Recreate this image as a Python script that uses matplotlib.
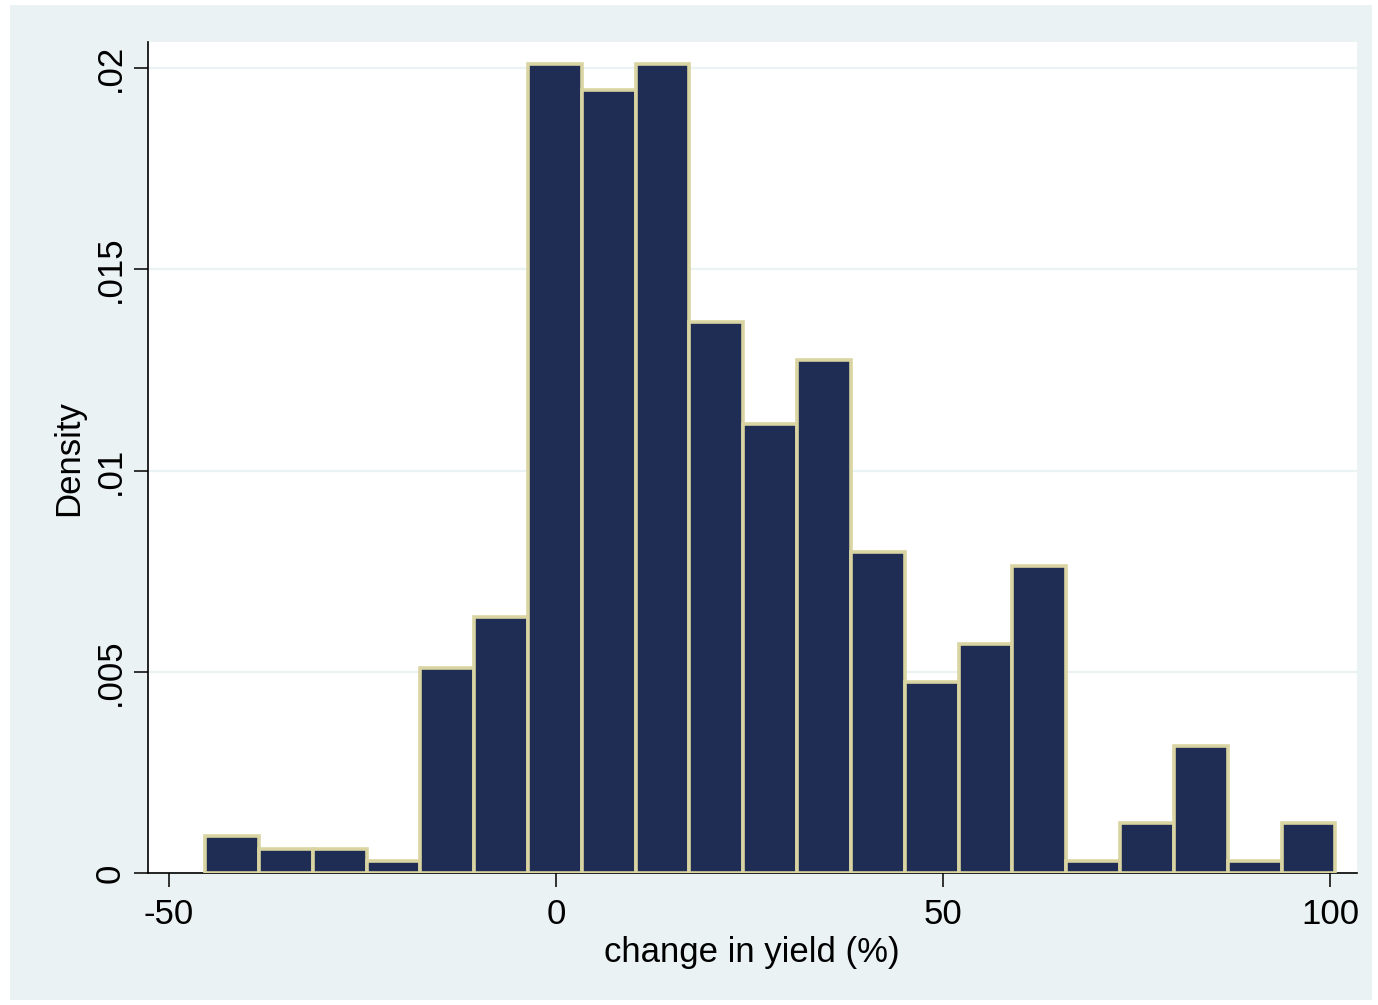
import numpy as np
import matplotlib.pyplot as plt
from matplotlib.patches import Rectangle

plt.rcParams['font.family'] = ['Liberation Sans', 'DejaVu Sans']

# histogram of yield change: bin edges (%) and density per bin
bin_edges = [-45.3, -38.35, -31.4, -24.45, -17.5, -10.55, -3.6, 3.35, 10.3,
             17.25, 24.2, 31.15, 38.1, 45.05, 52.0, 58.95, 65.9, 72.85,
             79.8, 86.75, 93.7, 100.65]
density = [0.00093, 0.0006, 0.0006, 0.0003, 0.00509, 0.00636, 0.0201,
           0.01946, 0.0201, 0.01369, 0.01115, 0.01275, 0.00797, 0.00475,
           0.00569, 0.00763, 0.0003, 0.00126, 0.00316, 0.0003, 0.00126]

xticks = [-50, 0, 50, 100]
yticks = [0, 0.005, 0.01, 0.015, 0.02]
ytick_labels = ['0', '.005', '.01', '.015', '.02']

bg = '#eaf2f3'
bar_fill = '#1f2d54'
bar_edge = '#d9d4a1'

fig = plt.figure(figsize=(13.78, 10.05), dpi=100, facecolor='white')
# stata-like graph region behind the plot
fig.add_artist(Rectangle((10 / 1378, 5 / 1005), 1362 / 1378, 995 / 1005,
                         transform=fig.transFigure, facecolor=bg,
                         edgecolor='none', zorder=-10))

ax = fig.add_axes([0.1072, 0.131, 0.8773, 0.827])
ax.set_facecolor('white')

edges = np.array(bin_edges)
ax.bar(edges[:-1], density, width=np.diff(edges), align='edge',
       color=bar_fill, edgecolor=bar_edge, linewidth=2.6, zorder=3)

ax.set_xlim(-52.7, 103.4)
ax.set_ylim(0, 0.02064)

ax.set_yticks(yticks)
ax.set_yticklabels(ytick_labels)
ax.set_xticks(xticks)
ax.set_xticklabels([str(v) for v in xticks])

ax.grid(axis='y', color=bg, linewidth=1.6, zorder=1)
ax.set_axisbelow(True)

for side in ['top', 'right']:
    ax.spines[side].set_visible(False)
for side in ['left', 'bottom']:
    ax.spines[side].set_linewidth(1.2)
    ax.spines[side].set_color('black')

ax.tick_params(axis='both', direction='out', length=10, width=1.1,
               labelsize=25, colors='black')
ax.tick_params(axis='x', pad=8)
ax.tick_params(axis='y', pad=5)
for lab in ax.get_yticklabels():
    lab.set_rotation(90)
    lab.set_va('center')

ax.set_xlabel('change in yield (%)', fontsize=25)
ax.set_ylabel('Density', fontsize=25)
ax.xaxis.set_label_coords(0.5, -0.075)
ax.yaxis.set_label_coords(-0.052, 0.5)

plt.savefig('out.png', dpi=100, facecolor=fig.get_facecolor())
